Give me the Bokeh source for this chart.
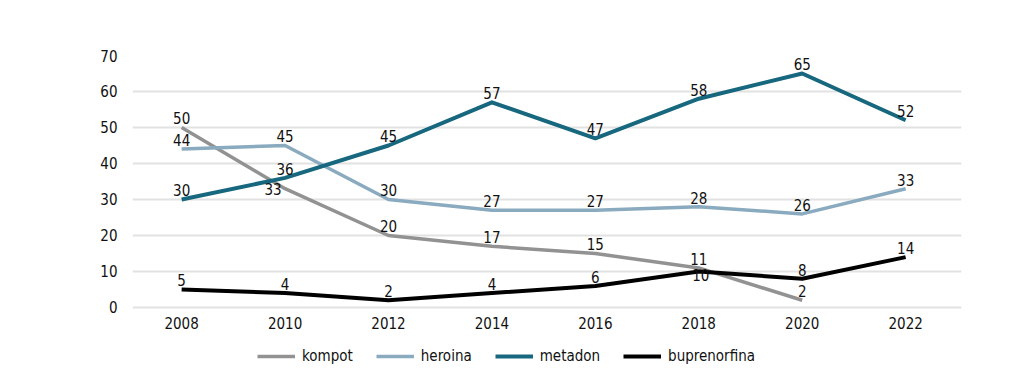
from bokeh.plotting import figure
from bokeh.models import Range1d, FixedTicker, Legend, LegendItem
from bokeh.core.properties import value
from bokeh.embed import file_html
from bokeh.resources import INLINE

years = [2008, 2010, 2012, 2014, 2016, 2018, 2020, 2022]
kompot = [50, 33, 20, 17, 15, 11, 2, None]
heroina = [44, 45, 30, 27, 27, 28, 26, 33]
metadon = [30, 36, 45, 57, 47, 58, 65, 52]
buprenorfina = [5, 4, 2, 4, 6, 10, 8, 14]
y_ticks = [0, 10, 20, 30, 40, 50, 60, 70]

names = ["kompot", "heroina", "metadon", "buprenorfina"]
series = [kompot, heroina, metadon, buprenorfina]
colors = ["#929292", "#8aaabf", "#17687f", "#000000"]
widths = [3.5, 3.5, 4, 4]

FONT = "DejaVu Sans Condensed"

# frame spans from y=70 (top) down past 0 to leave room for axis labels and legend
p = figure(width=1018, height=380, output_backend="svg", toolbar_location=None,
           x_range=Range1d(2007.05, 2023.08), y_range=Range1d(-20.28, 70),
           min_border_left=132, min_border_right=57, min_border_top=55, min_border_bottom=0)
p.outline_line_color = None
p.background_fill_color = "white"
p.border_fill_color = "white"

p.xgrid.grid_line_color = None
p.ygrid.grid_line_color = "#e2e2e2"
p.ygrid.grid_line_width = 2

for ax in (p.xaxis[0], p.yaxis[0]):
    ax.axis_line_color = None
    ax.major_tick_line_color = None
    ax.minor_tick_line_color = None
    ax.major_tick_out = 0
    ax.major_tick_in = 0
    ax.major_label_text_font = FONT
    ax.major_label_text_font_size = "15px"
    ax.major_label_text_color = "#111111"
p.xaxis[0].ticker = FixedTicker(ticks=years)
p.yaxis[0].ticker = FixedTicker(ticks=y_ticks)
p.xaxis[0].fixed_location = 0
p.xaxis[0].major_label_standoff = 10
p.yaxis[0].major_label_standoff = 15

items = []
for name, vals, col, w in zip(names, series, colors, widths):
    xs = [x for x, v in zip(years, vals) if v is not None]
    ys = [v for v in vals if v is not None]
    r = p.line(xs, ys, line_color=col, line_width=w, line_join="round")
    items.append(LegendItem(label=name, renderers=[r]))

# value labels
special = {("kompot", 2010): (-12, 0, "middle"),
           ("buprenorfina", 2018): (2, 4, "middle")}
for name, vals in zip(names, series):
    for x, v in zip(years, vals):
        if v is None:
            continue
        xo, yo, base = special.get((name, x), (0, -3, "bottom"))
        p.text(x=[x], y=[v], text=[str(v)], x_offset=xo, y_offset=yo,
               text_align="center", text_baseline=base,
               text_font=value(FONT), text_font_size="15px", text_color="#111111")

legend = Legend(items=items, orientation="horizontal", location=(125, 14),
                glyph_width=38, glyph_height=20, label_standoff=7, spacing=23,
                padding=5, margin=0, border_line_color=None,
                label_text_font=FONT, label_text_font_size="15px",
                label_text_color="#111111", background_fill_alpha=0)
p.add_layout(legend, "center")

open("out.html", "w").write(file_html(p, INLINE))
